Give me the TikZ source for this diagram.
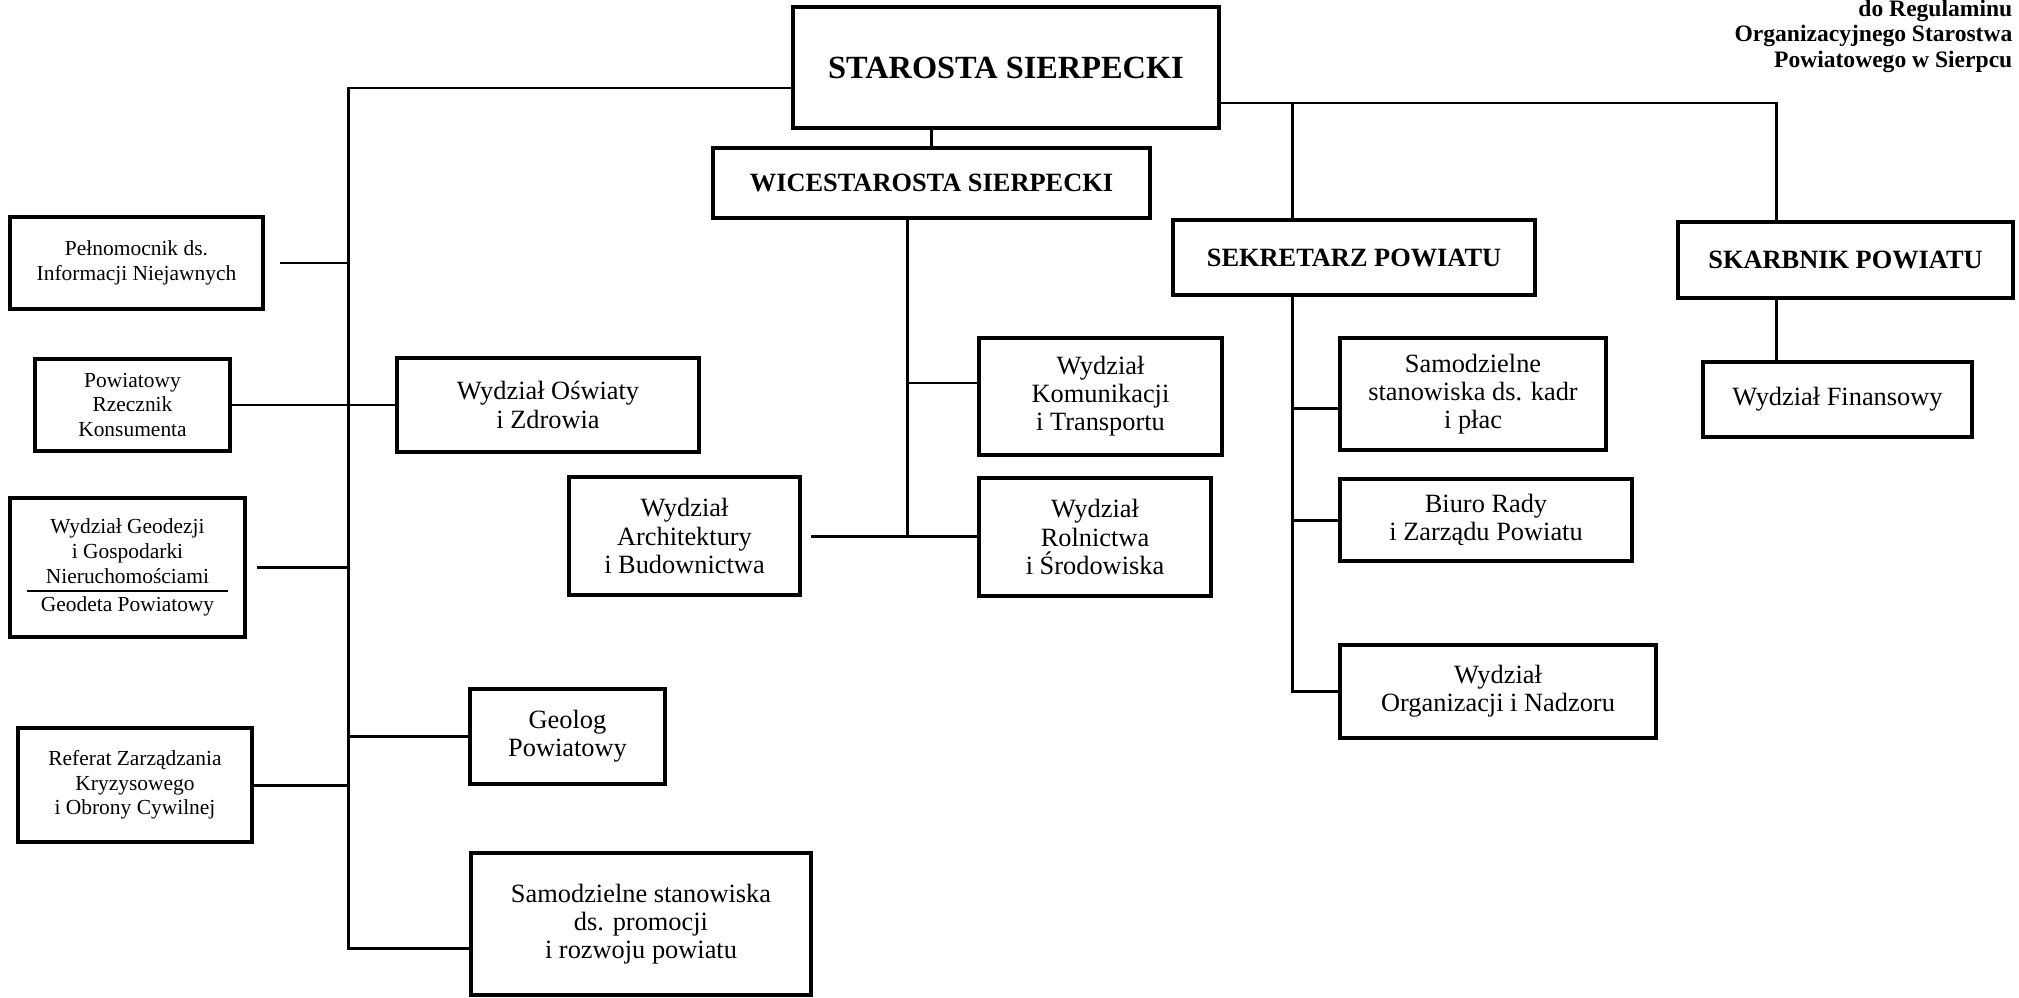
\documentclass[tikz,border=0pt]{standalone}
\usepackage{fontspec}
\setmainfont{Liberation Serif}

\begin{document}
\begin{tikzpicture}[
    x=0.01cm, y=-0.01cm,
    block/.style={rectangle, draw=black, line width=1pt, inner sep=0pt, align=center, font=\fontsize{7.5}{8}\selectfont},
    small/.style={block, font=\fontsize{6.1}{7}\selectfont},
    head/.style={block, font=\fontsize{7.5}{8}\selectfont\bfseries},
    link/.style={line width=0.85pt}
]

% Frame
\path[fill=white, use as bounding box] (0,0) rectangle (2019,997);

% Nodes
\node[head, minimum width=4.26cm, minimum height=1.21cm, font=\fontsize{9.2}{10}\selectfont\bfseries] (starosta) at (1006,67.5) {STAROSTA SIERPECKI};
\node[head, minimum width=4.37cm, minimum height=0.70cm] (wice) at (931.5,183) {WICESTAROSTA SIERPECKI};
\node[head, minimum width=3.62cm, minimum height=0.75cm] (sekretarz) at (1354,257.5) {SEKRETARZ POWIATU};
\node[head, minimum width=3.35cm, minimum height=0.76cm] (skarbnik) at (1845.5,260) {SKARBNIK POWIATU};
\node[block, minimum width=2.69cm, minimum height=0.75cm] (finansowy) at (1837.5,399.5) {Wydział Finansowy};

\node[block, minimum width=2.66cm, minimum height=1.12cm] (kadry) at (1473,394) {Samodzielne\\stanowiska ds. kadr\\i płac};
\node[block, minimum width=2.92cm, minimum height=0.82cm] (biuro) at (1486,520) {Biuro Rady\\i Zarządu Powiatu};
\node[block, minimum width=3.16cm, minimum height=0.93cm] (organizacja) at (1498,691.5) {Wydział\\Organizacji i Nadzoru};

\node[block, minimum width=2.43cm, minimum height=1.17cm] (komunikacja) at (1100.5,396.5) {Wydział\\Komunikacji\\i Transportu};
\node[block, minimum width=2.32cm, minimum height=1.18cm] (rolnictwo) at (1095,537) {Wydział\\Rolnictwa\\i Środowiska};
\node[block, minimum width=2.31cm, minimum height=1.18cm] (architektura) at (684.5,536) {Wydział\\Architektury\\i Budownictwa};
\node[block, minimum width=3.02cm, minimum height=0.94cm] (oswiata) at (548,405) {Wydział Oświaty\\i Zdrowia};
\node[block, minimum width=1.95cm, minimum height=0.95cm] (geolog) at (567.5,736.5) {Geolog\\Powiatowy};
\node[block, minimum width=3.40cm, minimum height=1.42cm] (promocja) at (641,924) {Samodzielne stanowiska\\ds. promocji\\i rozwoju powiatu};

\node[small, minimum width=2.53cm, minimum height=0.92cm] (pelnomocnik) at (136.5,263) {Pełnomocnik ds.\\Informacji Niejawnych};
\node[small, minimum width=1.95cm, minimum height=0.92cm] (rzecznik) at (132.5,405) {Powiatowy\\Rzecznik\\Konsumenta};
\node[small, minimum width=2.35cm, minimum height=1.39cm] (geodezja) at (127.5,567.5) {Wydział Geodezji\\i Gospodarki\\Nieruchomościami\\[-4.4pt]\rule{2.01cm}{0.8pt}\\[-1.6pt]Geodeta Powiatowy};
\node[small, minimum width=2.34cm, minimum height=1.14cm] (referat) at (135,785) {Referat Zarządzania\\Kryzysowego\\i Obrony Cywilnej};

\node[anchor=north east, inner sep=0pt, align=right, font=\fontsize{6.7}{7.3}\selectfont\bfseries] (zalacznik) at (2013,-1) {do Regulaminu\\Organizacyjnego Starostwa\\Powiatowego w Sierpcu};

% Junctions
\coordinate (lt) at (348,88);
\coordinate (lb) at (348,948);
\coordinate (sj) at (1292,103);
\coordinate (rt) at (1776,103);
\coordinate (wj) at (907,218);

% Paths
\draw[link] (starosta.west |- lt) -- (lt) -- (lb) -- (promocja.west |- lb);
\draw[link] ([xshift=0.15cm]pelnomocnik.east) -- (pelnomocnik.east -| lt);
\draw[link] (rzecznik.east) -- (oswiata.west);
\draw[link] ([xshift=0.1cm]geodezja.east) -- (geodezja.east -| lt);
\draw[link] (referat.east) -- (referat.east -| lt);
\draw[link] (geolog.west) -- (geolog.west -| lt);

\draw[link] (starosta.south -| wice.north) -- (wice.north);
\draw[link] (starosta.east |- rt) -- (rt) -- (rt |- skarbnik.north);
\draw[link] (sj) -- (sj |- sekretarz.north);
\draw[link] (rt |- skarbnik.south) -- (rt |- finansowy.north);

\draw[link] (wj |- wice.south) -- (wj |- architektura.east);
\draw[link] ([yshift=0.135cm]komunikacja.west) -- ([yshift=0.135cm]komunikacja.west -| wj);
\draw[link] ([xshift=0.09cm]architektura.east) -- (rolnictwo.west |- architektura.east);

\draw[link] (sj |- sekretarz.south) -- (sj |- organizacja.west) -- (organizacja.west);
\draw[link] ([yshift=-0.14cm]kadry.west) -- ([yshift=-0.14cm]kadry.west -| sj);
\draw[link] (biuro.west) -- (biuro.west -| sj);

\end{tikzpicture}
\end{document}
